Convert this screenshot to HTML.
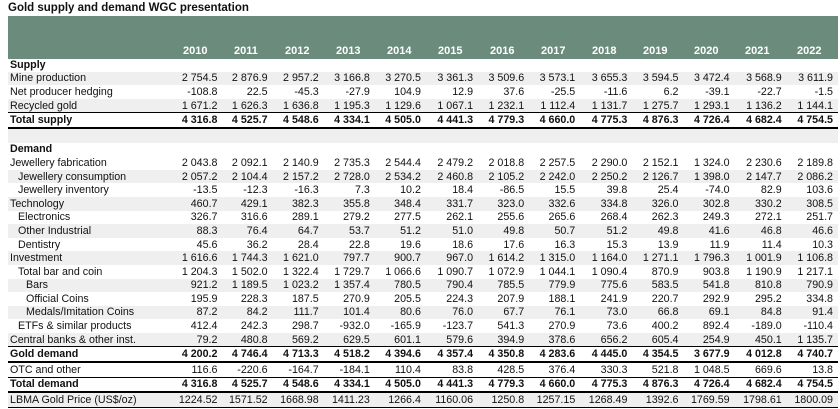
<!DOCTYPE html>
<html><head><meta charset="utf-8"><style>
body{margin:0;background:#fff;width:840px;height:409px;overflow:hidden;font-family:"Liberation Sans",Arial,sans-serif;font-size:10.7px;color:#111}
.title{position:absolute;left:8px;top:2px;font-weight:bold;font-size:11.5px}
.hdr{position:absolute;left:8px;top:16px;width:830px;height:43px;background:#6b8c7c}
table{position:absolute;left:8px;top:58px;border-collapse:collapse;table-layout:fixed;width:830px}
td{height:13.6px;padding:0;line-height:12px;text-align:right;white-space:nowrap;overflow:visible}
td:first-child{text-align:left;padding-left:2px}
td:last-child{padding-right:5px}
tr.g td{background:#efefef}
tr.b td{font-weight:bold}
tr.tl td{border-top:1px solid #000}
tr.bl td{border-bottom:2px solid #000}
tr.last td{border-bottom:1px solid #000}
.i1{padding-left:10px!important}.i2{padding-left:18px!important}
.yr{position:absolute;top:45px;color:#fff;font-weight:bold;font-size:11px}
</style></head><body>
<div class="title">Gold supply and demand WGC presentation</div>
<div class="hdr"></div>
<table>
<colgroup><col style="width:158px"><col style="width:51px"><col style="width:50px"><col style="width:51px"><col style="width:51px"><col style="width:51px"><col style="width:52px"><col style="width:51px"><col style="width:51px"><col style="width:52px"><col style="width:51px"><col style="width:51px"><col style="width:52px"><col style="width:56px"></colgroup>
<tr class="b"><td>Supply</td><td></td><td></td><td></td><td></td><td></td><td></td><td></td><td></td><td></td><td></td><td></td><td></td><td></td></tr>
<tr class="g"><td>Mine production</td><td>2 754.5</td><td>2 876.9</td><td>2 957.2</td><td>3 166.8</td><td>3 270.5</td><td>3 361.3</td><td>3 509.6</td><td>3 573.1</td><td>3 655.3</td><td>3 594.5</td><td>3 472.4</td><td>3 568.9</td><td>3 611.9</td></tr>
<tr><td>Net producer hedging</td><td>-108.8</td><td>22.5</td><td>-45.3</td><td>-27.9</td><td>104.9</td><td>12.9</td><td>37.6</td><td>-25.5</td><td>-11.6</td><td>6.2</td><td>-39.1</td><td>-22.7</td><td>-1.5</td></tr>
<tr class="g"><td>Recycled gold</td><td>1 671.2</td><td>1 626.3</td><td>1 636.8</td><td>1 195.3</td><td>1 129.6</td><td>1 067.1</td><td>1 232.1</td><td>1 112.4</td><td>1 131.7</td><td>1 275.7</td><td>1 293.1</td><td>1 136.2</td><td>1 144.1</td></tr>
<tr class="b tl bl"><td>Total supply</td><td>4 316.8</td><td>4 525.7</td><td>4 548.6</td><td>4 334.1</td><td>4 505.0</td><td>4 441.3</td><td>4 779.3</td><td>4 660.0</td><td>4 775.3</td><td>4 876.3</td><td>4 726.4</td><td>4 682.4</td><td>4 754.5</td></tr>
<tr class="g"><td>&nbsp;</td><td></td><td></td><td></td><td></td><td></td><td></td><td></td><td></td><td></td><td></td><td></td><td></td><td></td></tr>
<tr class="b"><td>Demand</td><td></td><td></td><td></td><td></td><td></td><td></td><td></td><td></td><td></td><td></td><td></td><td></td><td></td></tr>
<tr><td>Jewellery fabrication</td><td>2 043.8</td><td>2 092.1</td><td>2 140.9</td><td>2 735.3</td><td>2 544.4</td><td>2 479.2</td><td>2 018.8</td><td>2 257.5</td><td>2 290.0</td><td>2 152.1</td><td>1 324.0</td><td>2 230.6</td><td>2 189.8</td></tr>
<tr class="g"><td class="i1">Jewellery consumption</td><td>2 057.2</td><td>2 104.4</td><td>2 157.2</td><td>2 728.0</td><td>2 534.2</td><td>2 460.8</td><td>2 105.2</td><td>2 242.0</td><td>2 250.2</td><td>2 126.7</td><td>1 398.0</td><td>2 147.7</td><td>2 086.2</td></tr>
<tr><td class="i1">Jewellery inventory</td><td>-13.5</td><td>-12.3</td><td>-16.3</td><td>7.3</td><td>10.2</td><td>18.4</td><td>-86.5</td><td>15.5</td><td>39.8</td><td>25.4</td><td>-74.0</td><td>82.9</td><td>103.6</td></tr>
<tr class="g"><td>Technology</td><td>460.7</td><td>429.1</td><td>382.3</td><td>355.8</td><td>348.4</td><td>331.7</td><td>323.0</td><td>332.6</td><td>334.8</td><td>326.0</td><td>302.8</td><td>330.2</td><td>308.5</td></tr>
<tr><td class="i1">Electronics</td><td>326.7</td><td>316.6</td><td>289.1</td><td>279.2</td><td>277.5</td><td>262.1</td><td>255.6</td><td>265.6</td><td>268.4</td><td>262.3</td><td>249.3</td><td>272.1</td><td>251.7</td></tr>
<tr class="g"><td class="i1">Other Industrial</td><td>88.3</td><td>76.4</td><td>64.7</td><td>53.7</td><td>51.2</td><td>51.0</td><td>49.8</td><td>50.7</td><td>51.2</td><td>49.8</td><td>41.6</td><td>46.8</td><td>46.6</td></tr>
<tr><td class="i1">Dentistry</td><td>45.6</td><td>36.2</td><td>28.4</td><td>22.8</td><td>19.6</td><td>18.6</td><td>17.6</td><td>16.3</td><td>15.3</td><td>13.9</td><td>11.9</td><td>11.4</td><td>10.3</td></tr>
<tr class="g"><td>Investment</td><td>1 616.6</td><td>1 744.3</td><td>1 621.0</td><td>797.7</td><td>900.7</td><td>967.0</td><td>1 614.2</td><td>1 315.0</td><td>1 164.0</td><td>1 271.1</td><td>1 796.3</td><td>1 001.9</td><td>1 106.8</td></tr>
<tr><td class="i1">Total bar and coin</td><td>1 204.3</td><td>1 502.0</td><td>1 322.4</td><td>1 729.7</td><td>1 066.6</td><td>1 090.7</td><td>1 072.9</td><td>1 044.1</td><td>1 090.4</td><td>870.9</td><td>903.8</td><td>1 190.9</td><td>1 217.1</td></tr>
<tr class="g"><td class="i2">Bars</td><td>921.2</td><td>1 189.5</td><td>1 023.2</td><td>1 357.4</td><td>780.5</td><td>790.4</td><td>785.5</td><td>779.9</td><td>775.6</td><td>583.5</td><td>541.8</td><td>810.8</td><td>790.9</td></tr>
<tr><td class="i2">Official Coins</td><td>195.9</td><td>228.3</td><td>187.5</td><td>270.9</td><td>205.5</td><td>224.3</td><td>207.9</td><td>188.1</td><td>241.9</td><td>220.7</td><td>292.9</td><td>295.2</td><td>334.8</td></tr>
<tr class="g"><td class="i2">Medals/Imitation Coins</td><td>87.2</td><td>84.2</td><td>111.7</td><td>101.4</td><td>80.6</td><td>76.0</td><td>67.7</td><td>76.1</td><td>73.0</td><td>66.8</td><td>69.1</td><td>84.8</td><td>91.4</td></tr>
<tr><td class="i1">ETFs &amp; similar products</td><td>412.4</td><td>242.3</td><td>298.7</td><td>-932.0</td><td>-165.9</td><td>-123.7</td><td>541.3</td><td>270.9</td><td>73.6</td><td>400.2</td><td>892.4</td><td>-189.0</td><td>-110.4</td></tr>
<tr class="g"><td>Central banks &amp; other inst.</td><td>79.2</td><td>480.8</td><td>569.2</td><td>629.5</td><td>601.1</td><td>579.6</td><td>394.9</td><td>378.6</td><td>656.2</td><td>605.4</td><td>254.9</td><td>450.1</td><td>1 135.7</td></tr>
<tr class="b tl bl"><td>Gold demand</td><td>4 200.2</td><td>4 746.4</td><td>4 713.3</td><td>4 518.2</td><td>4 394.6</td><td>4 357.4</td><td>4 350.8</td><td>4 283.6</td><td>4 445.0</td><td>4 354.5</td><td>3 677.9</td><td>4 012.8</td><td>4 740.7</td></tr>
<tr><td>OTC and other</td><td>116.6</td><td>-220.6</td><td>-164.7</td><td>-184.1</td><td>110.4</td><td>83.8</td><td>428.5</td><td>376.4</td><td>330.3</td><td>521.8</td><td>1 048.5</td><td>669.6</td><td>13.8</td></tr>
<tr class="b tl bl"><td>Total demand</td><td>4 316.8</td><td>4 525.7</td><td>4 548.6</td><td>4 334.1</td><td>4 505.0</td><td>4 441.3</td><td>4 779.3</td><td>4 660.0</td><td>4 775.3</td><td>4 876.3</td><td>4 726.4</td><td>4 682.4</td><td>4 754.5</td></tr>
<tr class="g last"><td>LBMA Gold Price (US$/oz)</td><td>1224.52</td><td>1571.52</td><td>1668.98</td><td>1411.23</td><td>1266.4</td><td>1160.06</td><td>1250.8</td><td>1257.15</td><td>1268.49</td><td>1392.6</td><td>1769.59</td><td>1798.61</td><td>1800.09</td></tr>
</table>
<div class="yr" style="left:183px">2010</div>
<div class="yr" style="left:234px">2011</div>
<div class="yr" style="left:285px">2012</div>
<div class="yr" style="left:336px">2013</div>
<div class="yr" style="left:387px">2014</div>
<div class="yr" style="left:438px">2015</div>
<div class="yr" style="left:490px">2016</div>
<div class="yr" style="left:541px">2017</div>
<div class="yr" style="left:592px">2018</div>
<div class="yr" style="left:643px">2019</div>
<div class="yr" style="left:694px">2020</div>
<div class="yr" style="left:745px">2021</div>
<div class="yr" style="left:797px">2022</div>
</body></html>
